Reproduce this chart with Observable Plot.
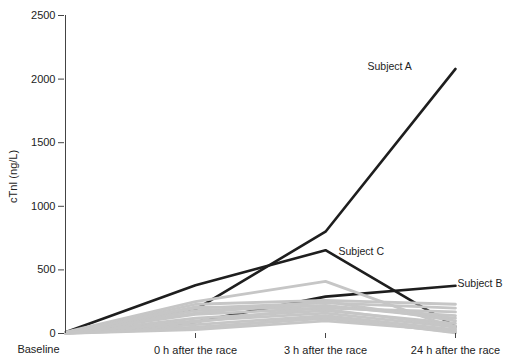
<!DOCTYPE html>
<html><head><meta charset="utf-8">
<script src="https://cdn.jsdelivr.net/npm/d3@7"></script>
<script src="https://cdn.jsdelivr.net/npm/@observablehq/plot@0.6"></script>
<style>body{margin:0;background:#fff}</style>
</head><body><div id="chart"></div>
<script>
const categories = ["Baseline", "0 h after the race", "3 h after the race", "24 h after the race"];
const yTicks = [0, 500, 1000, 1500, 2000, 2500];

// highlighted subjects
const subjectA = [10, 190, 800, 2080];
const subjectB = [5, 90, 290, 375];
const subjectC = [10, 380, 655, 55];

// other subjects (grey)
const grey01 = [10, 250, 410, 40];
const grey02 = [5, 230, 260, 230];
const grey03 = [5, 200, 240, 200];
const grey04 = [8, 180, 220, 120];
const grey05 = [5, 150, 200, 170];
const grey06 = [3, 120, 180, 80];
const grey07 = [5, 100, 160, 50];
const grey08 = [2, 70, 140, 30];
const grey09 = [3, 50, 120, 10];
const grey10 = [2, 30, 100, 20];
const grey11 = [4, 160, 250, 100];
const grey12 = [5, 210, 190, 60];
const grey13 = [3, 90, 210, 140];
const grey14 = [2, 40, 130, 5];

const blackSeries = {A: subjectA, B: subjectB, C: subjectC};
const greySeries = [grey01, grey02, grey03, grey04, grey05, grey06, grey07, grey08, grey09, grey10, grey11, grey12, grey13, grey14];

const toRows = (vals, id) => vals.map((v, i) => ({id, time: categories[i], value: v}));
const blackRows = Object.entries(blackSeries).flatMap(([k, v]) => toRows(v, k));
const greyRows = greySeries.flatMap((v, j) => toRows(v, "g" + j));

const font = "Liberation Sans, Arial, sans-serif";
const lbl = (text, i, v, dx, dy) =>
  Plot.text([{time: categories[i], value: v}], {x: "time", y: "value", text: () => text, dx, dy, textAnchor: "start", fontSize: 10.5, fill: "#222"});

const chart = Plot.plot({
  width: 505, height: 357,
  marginLeft: 64, marginRight: 49, marginTop: 15, marginBottom: 24,
  style: {fontFamily: font, fontSize: "11px", color: "#222", background: "#fff"},
  x: {type: "point", domain: categories, padding: 0, label: null},
  y: {domain: [0, 2500], ticks: yTicks, label: null},
  marks: [
    Plot.lineY(blackRows, {x: "time", y: "value", z: "id", stroke: "#1e1e1e", strokeWidth: 2.6}),
    Plot.lineY(greyRows, {x: "time", y: "value", z: "id", stroke: "#c6c6c6", strokeWidth: 2.8}),
    Plot.ruleX([categories[0]], {y1: 0, y2: 2500, stroke: "#444", strokeWidth: 1}),
    Plot.ruleY([0], {x1: categories[0], x2: categories[3], stroke: "#444", strokeWidth: 1}),
    Plot.axisY({ticks: yTicks, tickFormat: "d", tickSize: 6, tickPadding: 3, stroke: "#444", fontSize: 11, label: null}),
    Plot.axisX({ticks: categories.slice(1), tickSize: 5, tickPadding: 8, stroke: "#444", fontSize: 11, label: null}),
    Plot.text([categories[0]], {x: d => d, frameAnchor: "bottom", dy: 19, dx: -27, fontSize: 11, fill: "#222"}),
    Plot.text(["cTnI (ng/L)"], {frameAnchor: "left", rotate: -90, textAnchor: "middle", dx: -51, dy: 2, fontSize: 11, fill: "#222"}),
    lbl("Subject A", 3, 2080, -88, -2),
    lbl("Subject C", 2, 655, 13, 1),
    lbl("Subject B", 3, 375, 2, -2)
  ]
});
document.getElementById("chart").appendChild(chart);
</script>
</body></html>
